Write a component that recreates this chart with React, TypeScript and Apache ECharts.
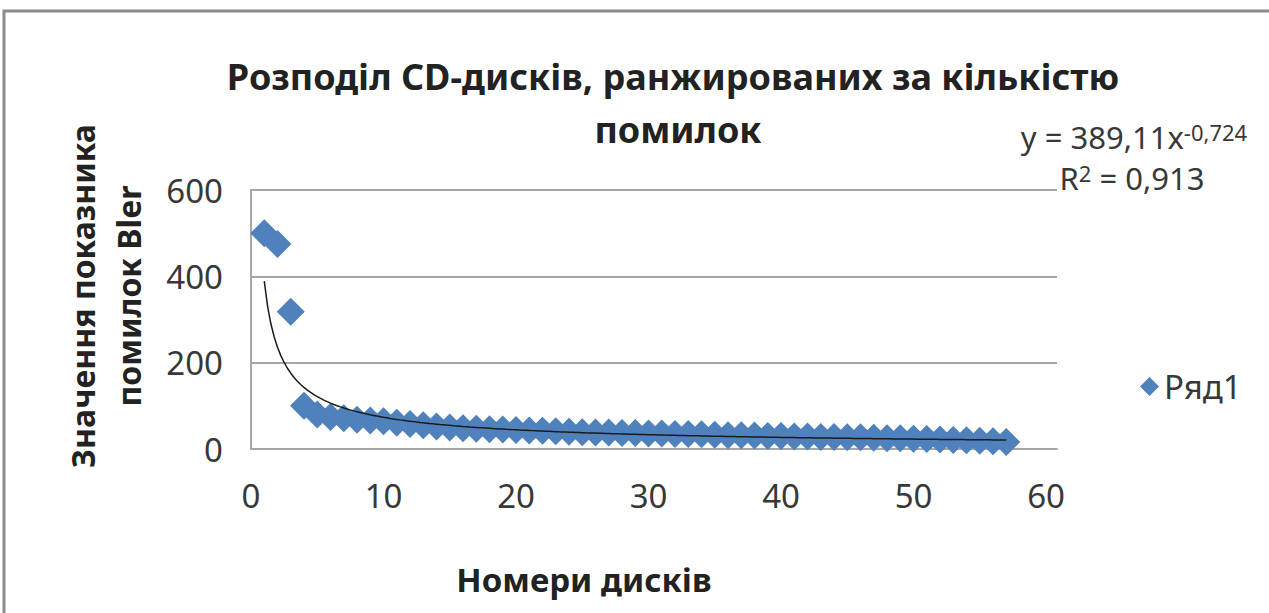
import React, { useEffect, useRef } from "react";
import * as echarts from "echarts";

const diskNumbers = [
  1, 2, 3, 4, 5, 6, 7, 8, 9, 10, 11, 12, 13, 14, 15, 16, 17, 18, 19, 20,
  21, 22, 23, 24, 25, 26, 27, 28, 29, 30, 31, 32, 33, 34, 35, 36, 37, 38, 39, 40,
  41, 42, 43, 44, 45, 46, 47, 48, 49, 50, 51, 52, 53, 54, 55, 56, 57,
];
const blerValues = [
  500, 475, 318, 100, 80, 74, 71, 68, 66, 64, 61, 58, 55, 52, 50, 48, 47, 46, 45, 44,
  43, 42, 41, 40, 39, 38, 38, 37, 37, 36, 36, 35, 35, 34, 33, 32, 32, 31, 30, 30,
  29, 29, 28, 28, 27, 27, 26, 25, 25, 24, 23, 22, 21, 20, 19, 18, 16,
];
const trendCoef = 389.11;
const trendExp = -0.724;
const seriesName = "Ряд1";
const titleLines = ["Розподіл CD-дисків, ранжированих за кількістю", "помилок"];
const yAxisTitle = "Значення показника\nпомилок Bler";
const xAxisTitle = "Номери дисків";

const FONT = "'Noto Sans', sans-serif";

export default function App() {
  const ref = useRef<HTMLDivElement>(null);
  useEffect(() => {
    if (!ref.current) return;
    const chart = echarts.init(ref.current, null, { renderer: "svg" });
    const points = diskNumbers.map((x, i) => [x, blerValues[i]]);
    const xMin = diskNumbers[0];
    const xMax = diskNumbers[diskNumbers.length - 1];
    const trend: number[][] = [];
    for (let x = xMin; x <= xMax + 1e-9; x += 0.25) {
      trend.push([x, trendCoef * Math.pow(x, trendExp)]);
    }
    chart.setOption({
      animation: false,
      backgroundColor: "#ffffff",
      textStyle: { fontFamily: FONT },
      grid: { left: 251, top: 190, width: 806, height: 259, containLabel: false },
      xAxis: {
        type: "value",
        min: 0,
        max: 60.83,
        interval: 10,
        axisLine: { show: true, lineStyle: { color: "#a6a6a6", width: 2 } },
        axisTick: { show: false },
        splitLine: { show: false },
        axisLabel: { color: "#383838", fontSize: 33, margin: 30, fontFamily: FONT, showMaxLabel: false },
      },
      yAxis: {
        type: "value",
        min: 0,
        max: 600,
        interval: 200,
        axisLine: { show: true, lineStyle: { color: "#a6a6a6", width: 2 } },
        axisTick: { show: false },
        splitLine: { show: true, lineStyle: { color: "#a6a6a6", width: 2 } },
        axisLabel: { color: "#383838", fontSize: 33, margin: 28, fontFamily: FONT },
      },
      legend: {
        data: [{ name: seriesName, icon: "diamond" }],
        left: 1135,
        top: 365,
        itemWidth: 19,
        itemHeight: 19,
        itemGap: 6,
        textStyle: { fontSize: 33, color: "#383838", fontFamily: FONT },
      },
      series: [
        {
          name: seriesName,
          type: "scatter",
          symbol: "diamond",
          symbolSize: 28,
          itemStyle: { color: "#4f81bd", opacity: 1 },
          data: points,
          z: 2,
        },
        {
          name: "trend",
          type: "line",
          showSymbol: false,
          smooth: false,
          lineStyle: { color: "#1a1a1a", width: 1.5 },
          data: trend,
          z: 3,
          silent: true,
        },
      ],
      graphic: [
        {
          type: "rect",
          shape: { x: 4, y: 11, width: 1400, height: 800 },
          style: { fill: "none", stroke: "#8c8c8c", lineWidth: 3 },
          silent: true,
        },
        {
          type: "text",
          x: 673,
          y: 76,
          style: {
            text: titleLines[0],
            font: `bold 36px ${FONT}`,
            fill: "#222",
            textAlign: "center",
            textVerticalAlign: "middle",
          },
        },
        {
          type: "text",
          x: 678,
          y: 129,
          style: {
            text: titleLines[1],
            font: `bold 36px ${FONT}`,
            fill: "#222",
            textAlign: "center",
            textVerticalAlign: "middle",
          },
        },
        {
          type: "text",
          x: 105,
          y: 296,
          rotation: Math.PI / 2,
          style: {
            text: yAxisTitle,
            font: `bold 32px ${FONT}`,
            lineHeight: 46,
            fill: "#222",
            textAlign: "center",
            textVerticalAlign: "middle",
          },
        },
        {
          type: "text",
          x: 584,
          y: 579,
          style: {
            text: xAxisTitle,
            font: `bold 33px ${FONT}`,
            fill: "#222",
            textAlign: "center",
            textVerticalAlign: "middle",
          },
        },
        {
          type: "text",
          x: 1134,
          y: 137,
          style: {
            text: "{a|y = 389,11x}{s|-0,724}",
            textAlign: "center",
            textVerticalAlign: "middle",
            rich: {
              a: { fontSize: 31, lineHeight: 32, fill: "#383838", fontFamily: FONT },
              s: { fontSize: 22, lineHeight: 18, verticalAlign: "top", fill: "#383838", fontFamily: FONT },
            },
          },
        },
        {
          type: "text",
          x: 1132,
          y: 178,
          style: {
            text: "{a|R}{s|2}{a| = 0,913}",
            textAlign: "center",
            textVerticalAlign: "middle",
            rich: {
              a: { fontSize: 31, lineHeight: 32, fill: "#383838", fontFamily: FONT },
              s: { fontSize: 22, lineHeight: 18, verticalAlign: "top", fill: "#383838", fontFamily: FONT },
            },
          },
        },
      ],
    });
    return () => chart.dispose();
  }, []);
  return (
    <div
      ref={ref}
      style={{ position: "fixed", left: 0, top: 0, width: 1269, height: 613 }}
    />
  );
}
